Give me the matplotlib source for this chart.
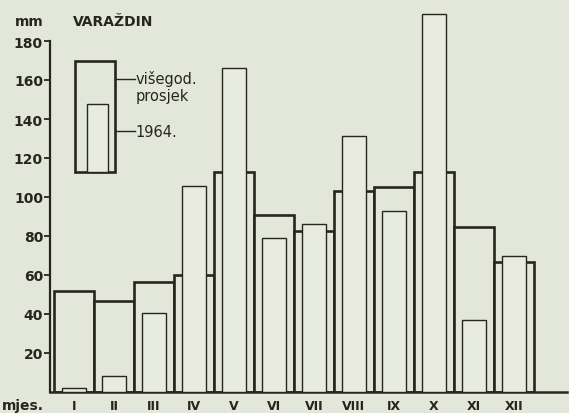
import matplotlib
matplotlib.use('Agg')
import matplotlib.pyplot as plt
from matplotlib.patches import Rectangle
import numpy as np

# monthly precipitation, Varaždin (mm)
months = ['I', 'II', 'III', 'IV', 'V', 'VI', 'VII', 'VIII', 'IX', 'X', 'XI', 'XII']
avg_mm = [52, 46.5, 56.5, 60, 113, 91, 82.5, 103, 105, 113, 84.5, 66.5]
y1964_mm = [2, 8, 40.5, 105.5, 166, 79, 86, 131.5, 93, 194, 37, 69.5]
yticks = [20, 40, 60, 80, 100, 120, 140, 160, 180]

bg = '#e3e7da'
ink = '#26261f'

fig = plt.figure(figsize=(5.69, 4.14), dpi=100, facecolor=bg)
ax = fig.add_axes([50 / 569, 21 / 414, 517 / 569, 390 / 414])
ax.set_facecolor(bg)

x = np.arange(len(months))
ax.bar(x, avg_mm, width=1.0, facecolor=bg, edgecolor=ink, linewidth=1.9, zorder=2)
ax.bar(x, y1964_mm, width=0.6, facecolor='#e8ebe0', edgecolor=ink, linewidth=1.0, zorder=3)

ax.set_xlim(-0.6, 12.33)
ax.set_ylim(0, 200)
for s in ['top', 'right']:
    ax.spines[s].set_visible(False)
ax.spines['left'].set_bounds(0, 180)
ax.spines['left'].set_linewidth(1.6)
ax.spines['bottom'].set_linewidth(1.8)
ax.spines['left'].set_color(ink)
ax.spines['bottom'].set_color(ink)

ax.set_yticks(yticks)
ax.set_yticklabels([str(v) for v in yticks], fontsize=10, fontweight='bold', color=ink)
ax.tick_params(axis='y', length=4, width=1.3, color=ink, pad=1)
ax.set_xticks(x)
ax.set_xticklabels(months, fontsize=9, fontweight='bold', color=ink)
ax.tick_params(axis='x', length=0, pad=5)

fig.text(2 / 569, 1 - 406 / 414, 'mjes.', fontsize=10, fontweight='bold', color=ink, va='center')
fig.text(15 / 569, 1 - 22 / 414, 'mm', fontsize=10, fontweight='bold', color=ink, va='center')
fig.text(73 / 569, 1 - 22 / 414, 'VARAŽDIN', fontsize=10, fontweight='bold', color=ink, va='center')

# legend glyphs
ax.add_patch(Rectangle((0.048, 0.564), 0.078, 0.285, transform=ax.transAxes,
                       facecolor=bg, edgecolor=ink, linewidth=1.9, zorder=4))
ax.add_patch(Rectangle((0.072, 0.564), 0.040, 0.174, transform=ax.transAxes,
                       facecolor='#e8ebe0', edgecolor=ink, linewidth=1.0, zorder=5))
ax.plot([0.126, 0.164], [0.803, 0.803], transform=ax.transAxes, color=ink, lw=1.0)
ax.plot([0.112, 0.164], [0.669, 0.669], transform=ax.transAxes, color=ink, lw=1.0)
ax.text(0.166, 0.806, 'višegod.', transform=ax.transAxes, fontsize=10.5, color=ink, va='center')
ax.text(0.166, 0.760, 'prosjek', transform=ax.transAxes, fontsize=10.5, color=ink, va='center')
ax.text(0.166, 0.669, '1964.', transform=ax.transAxes, fontsize=10.5, color=ink, va='center')

fig.savefig('out.png', dpi=100, facecolor=bg)
